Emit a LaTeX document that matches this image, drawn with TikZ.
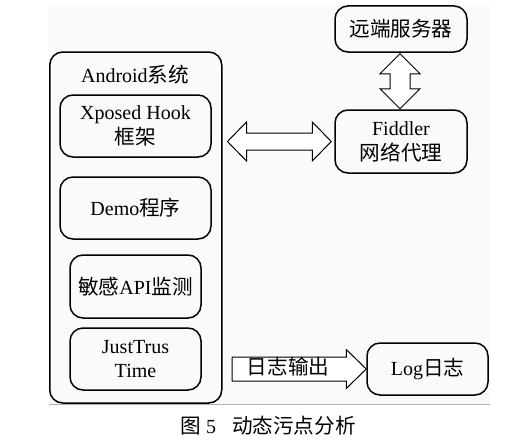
\documentclass[tikz,border=0pt]{standalone}
\usepackage{fontspec}
\usetikzlibrary{calc}
\setmainfont{Liberation Serif}
\newfontfamily\cjk[Scale=1.03]{Noto Sans CJK SC}
\begin{document}
\begin{tikzpicture}[x=1pt,y=-1pt,
  box/.style={draw,line width=1.5pt,rounded corners=13pt,inner sep=0pt,align=center},
  txt/.style={inner sep=0pt,align=center},
  blockarrow/.style={draw,line width=1pt,fill=white,line join=miter},
  every node/.style={font=\fontsize{20}{26}\selectfont}]
\useasboundingbox (0,0) rectangle (526,444);
\fill[gray!4] (49,5) rectangle (490,404);
\draw[line width=0.8pt,gray!60] (49,404.5) -- (490,404.5);
% Android system
\node[box,minimum width=172pt,minimum height=351pt] (android) at (135.75,227.5) {};
\node[txt] (androidlabel) at (135,75) {Android{\cjk 系统}};
\node[box,minimum width=151pt,minimum height=62pt] (xposed) at (135.5,126) {Xposed Hook\\[-1pt]{\cjk 框架}};
\node[box,minimum width=151pt,minimum height=62pt] (demo) at (135.5,208) {Demo{\cjk 程序}};
\node[box,minimum width=131pt,minimum height=63pt] (api) at (135.5,286.5) {{\cjk 敏感}API{\cjk 监测}};
\node[box,minimum width=131pt,minimum height=62pt] (just) at (135.5,359) {JustTrus\\[-2pt]Time};
% right side
\node[box,minimum width=132pt,minimum height=46pt] (server) at (401,29) {{\cjk 远端服务器}};
\node[box,minimum width=132pt,minimum height=63pt] (fiddler) at (401,141.5) {Fiddler\\[-1pt]{\cjk 网络代理}};
\node[box,minimum width=121pt,minimum height=52pt] (log) at (427.5,369) {Log{\cjk 日志}};
% horizontal double arrow between android and fiddler
\coordinate (hl) at (android.east |- fiddler.west);
\draw[blockarrow] ($(hl)+(5,0)$) -- ++(19,-19.5) -- ++(0,11) -- ($(fiddler.west)+(-22,-8.5)$) -- ++(0,-11) -- ($(fiddler.west)+(-3,0)$) -- ++(-19,19.5) -- ++(0,-11) -- ($(hl)+(24,8.5)$) -- ++(0,11) -- cycle;
% vertical double arrow between server and fiddler
\coordinate (vt) at ($(server.south)+(-1,1)$);
\coordinate (vb) at ($(fiddler.north)+(-1,-0.5)$);
\draw[blockarrow] (vt) -- ++(20,20) -- ++(-10,0) -- ($(vb)+(10,-20)$) -- ++(10,0) -- (vb) -- ++(-20,-20) -- ++(10,0) -- ($(vt)+(-10,20)$) -- ++(-10,0) -- cycle;
% single arrow to log
\coordinate (ltail) at (232,369);
\draw[blockarrow] ($(ltail)+(0,-12)$) -- ($(log.west)+(-20,-12)$) -- ++(0,-7.5) -- (log.west) -- ++(-20,19.5) -- ++(0,-7.5) -- ($(ltail)+(0,12)$) -- cycle;
\node[txt] (logout) at (288,367) {{\cjk 日志输出}};
% caption
\node[txt] (caption) at (268,426) {{\cjk 图} 5\hspace{16pt}{\cjk 动态污点分析}};
\end{tikzpicture}
\end{document}
